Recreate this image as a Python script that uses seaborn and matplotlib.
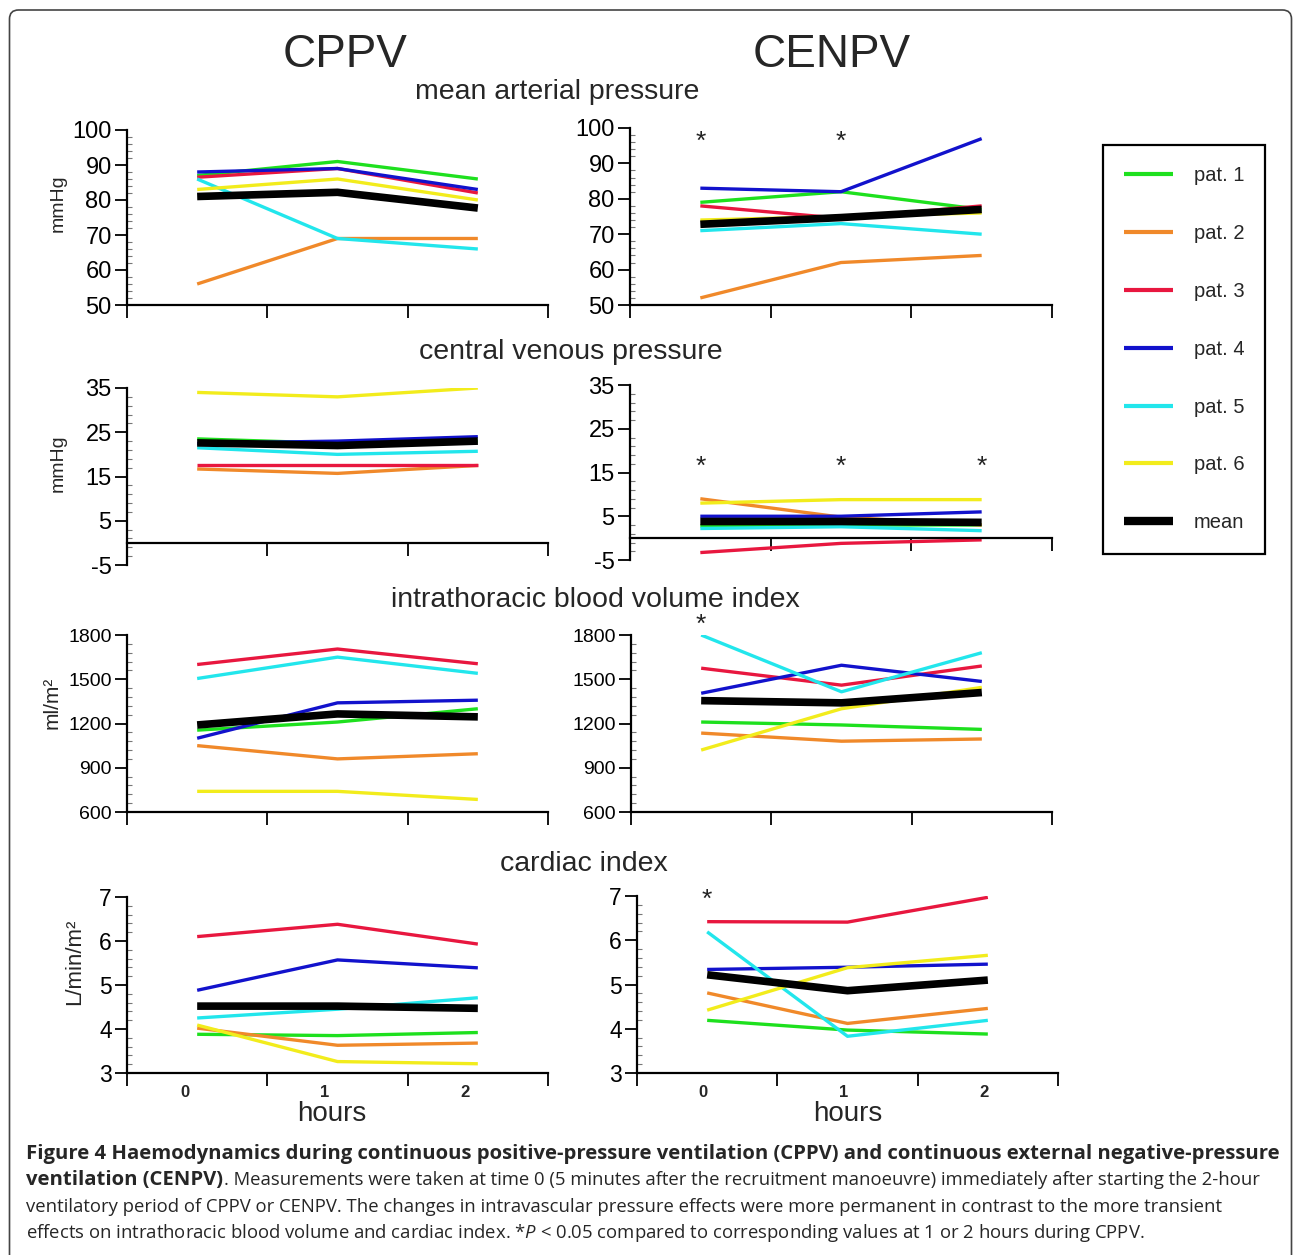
import numpy as np
import pandas as pd
import matplotlib
matplotlib.use("Agg")
import matplotlib.pyplot as plt
import seaborn as sns
from matplotlib.lines import Line2D
from matplotlib.patches import FancyBboxPatch
from matplotlib.transforms import IdentityTransform, blended_transform_factory
from matplotlib.ticker import FixedLocator

# ---------------- data ----------------
SERIES = ["pat. 1", "pat. 2", "pat. 3", "pat. 4", "pat. 5", "pat. 6", "mean"]
COLORS = ["#1ee01e", "#f0892a", "#e8173f", "#1212cc", "#22e6ec", "#f2ec1c", "#000000"]
HOURS = [0, 1, 2]
HOUR_LABELS = ["0", "1", "2"]

# rows: pat.1 .. pat.6, mean ; columns: hour 0, 1, 2
MAP_CPPV = [[87, 91, 86], [56, 69, 69], [86.5, 89, 82], [88, 89, 83],
            [86, 69, 66], [83, 86, 80], [81, 82.2, 77.7]]
MAP_CENPV = [[79, 82, 77], [52, 62, 64], [78, 74.5, 78], [83, 82, 97],
             [71, 73, 70], [74, 75, 76], [72.8, 74.7, 77]]
CVP_CPPV = [[23.5, 22.5, 23], [16.7, 15.7, 17.5], [17.7, 17.7, 17.7], [22.5, 23, 24],
            [21.5, 20, 20.7], [34, 33, 35], [22.6, 22, 23]]
CVP_CENPV = [[2.8, 3, 3], [9, 4.8, 3], [-3.3, -1.2, -0.4], [5, 5, 6],
             [2.2, 2.6, 1.7], [8, 8.8, 8.8], [3.8, 3.8, 3.6]]
ITBVI_CPPV = [[1155, 1210, 1300], [1050, 960, 995], [1600, 1705, 1605], [1100, 1340, 1358],
              [1505, 1650, 1540], [740, 740, 685], [1190, 1265, 1245]]
ITBVI_CENPV = [[1210, 1190, 1160], [1135, 1080, 1095], [1575, 1460, 1590], [1405, 1595, 1485],
               [1800, 1415, 1680], [1020, 1300, 1445], [1355, 1340, 1410]]
CI_CPPV = [[3.88, 3.85, 3.92], [4.02, 3.63, 3.68], [6.1, 6.38, 5.93], [4.88, 5.57, 5.39],
           [4.25, 4.45, 4.71], [4.09, 3.26, 3.21], [4.52, 4.52, 4.47]]
CI_CENPV = [[4.19, 3.97, 3.88], [4.81, 4.12, 4.46], [6.42, 6.41, 6.97], [5.34, 5.39, 5.46],
            [6.19, 3.83, 4.19], [4.42, 5.38, 5.66], [5.22, 4.86, 5.1]]

# significance stars (CENPV panels): hours marked with *
STAR_MAP = [0, 1]
STAR_CVP = [0, 1, 2]
STAR_ITBVI = [0]
STAR_CI = [0]

GROUP_TITLES = ["CPPV", "CENPV"]
PANEL_TITLES = ["mean arterial pressure", "central venous pressure",
                "intrathoracic blood volume index", "cardiac index"]
Y_LABELS = ["mmHg", "mmHg", "ml/m²", "L/min/m²"]

CAPTION_1 = ("Figure 4 Haemodynamics during continuous positive-pressure ventilation (CPPV) "
             "and continuous external negative-pressure")
CAPTION_2B = "ventilation (CENPV)"
CAPTION_2 = (". Measurements were taken at time 0 (5 minutes after the recruitment manoeuvre) "
             "immediately after starting the 2-hour")
CAPTION_3 = ("ventilatory period of CPPV or CENPV. The changes in intravascular pressure effects "
             "were more permanent in contrast to the more transient")
CAPTION_4 = ("effects on intrathoracic blood volume and cardiac index. *$P$ < 0.05 compared to "
             "corresponding values at 1 or 2 hours during CPPV.")

# ---------------- style ----------------
sns.set_style("white")
plt.rcParams["font.family"] = ["Liberation Sans", "DejaVu Sans"]
plt.rcParams["mathtext.fontset"] = "custom"
plt.rcParams["mathtext.it"] = "Open Sans:italic"
plt.rcParams["mathtext.rm"] = "Open Sans"
plt.rcParams["lines.solid_capstyle"] = "butt"
plt.rcParams["lines.solid_joinstyle"] = "round"

W, H = 1293, 1255
fig = plt.figure(figsize=(W / 100, H / 100), dpi=100)


def fx(x):
    return x / W


def fy(y):
    return 1 - y / H


def ax_rect(x0, y0, x1, y1):
    return [x0 / W, 1 - y1 / H, (x1 - x0) / W, (y1 - y0) / H]


LEFT_POS = [(127, 130, 548, 305), (127, 388, 548, 565), (127, 635, 548, 812), (127, 897, 548, 1073)]
RIGHT_POS = [(630, 128, 1052, 305), (630, 385, 1052, 560), (631, 635, 1052, 812), (637, 896, 1058, 1073)]

ROWS = [
    dict(data=(MAP_CPPV, MAP_CENPV), ylim=(50, 100), major=np.arange(50, 101, 10),
         minor=np.arange(50, 101, 2), fs=17, stars=STAR_MAP, star_y=96.2, zero=False),
    dict(data=(CVP_CPPV, CVP_CENPV), ylim=(-5, 35), major=np.arange(-5, 36, 10),
         minor=np.arange(-5, 36, 2), fs=17, stars=STAR_CVP, star_y=16.2, zero=True),
    dict(data=(ITBVI_CPPV, ITBVI_CENPV), ylim=(600, 1800), major=np.arange(600, 1801, 300),
         minor=np.arange(600, 1801, 60), fs=14, stars=STAR_ITBVI, star_y=1870, zero=False),
    dict(data=(CI_CPPV, CI_CENPV), ylim=(3, 7), major=np.arange(3, 7.01, 1),
         minor=np.arange(3, 7.01, 0.2), fs=16.5, stars=STAR_CI, star_y=6.91, zero=False),
]

WIDTHS = [2.4] * 6 + [5.5]
palette = dict(zip(SERIES, COLORS))
sizes = dict(zip(SERIES, WIDTHS))


def draw(ax, values):
    df = pd.DataFrame({
        "hour": np.tile(HOURS, len(SERIES)),
        "value": np.ravel(values),
        "series": np.repeat(SERIES, len(HOURS)),
    })
    sns.lineplot(data=df, x="hour", y="value", hue="series", size="series",
                 hue_order=SERIES, size_order=SERIES, palette=palette, sizes=sizes,
                 estimator=None, sort=False, legend=False, ax=ax)


def style(ax, row):
    ax.set_xlim(-0.5, 2.5)
    ax.set_ylim(*row["ylim"])
    ax.patch.set_alpha(0)
    for s in ["top", "right"]:
        ax.spines[s].set_visible(False)
    for s in ["left", "bottom"]:
        ax.spines[s].set_linewidth(1.6)
        ax.spines[s].set_color("black")
    if row["zero"]:
        ax.spines["bottom"].set_position(("data", 0))
    ax.set_xticks([-0.5, 0.5, 1.5, 2.5])
    ax.set_xticklabels([])
    ax.yaxis.set_major_locator(FixedLocator(row["major"]))
    ax.yaxis.set_minor_locator(FixedLocator(row["minor"]))
    ax.set_yticklabels([f"{v:g}" for v in row["major"]])
    ax.tick_params(axis="x", which="major", bottom=True, direction="out", length=9,
                   width=1.3, color="black")
    ax.tick_params(axis="y", which="major", left=True, direction="out", length=9, width=1.3,
                   labelsize=row["fs"], pad=2, color="black", labelcolor="black")
    ax.tick_params(axis="y", which="minor", left=True, direction="in", length=3.5,
                   width=0.8, color="#777777")
    ax.set_xlabel("")
    ax.set_ylabel("")


axes = []
for i, row in enumerate(ROWS):
    for j, pos in enumerate((LEFT_POS[i], RIGHT_POS[i])):
        ax = fig.add_axes(ax_rect(*pos))
        draw(ax, row["data"][j])
        style(ax, row)
        axes.append(ax)
        if j == 1:
            for h in row["stars"]:
                ax.text(h, row["star_y"], "*", ha="center", va="center", fontsize=19,
                        color="#222222", clip_on=False)
        if i == 3:
            tr = blended_transform_factory(ax.transData, ax.transAxes)
            off = -0.09 if j == 0 else -0.03
            for h, lab in zip(HOURS, HOUR_LABELS):
                ax.text(h + off, -0.135, lab, transform=tr, ha="center", va="baseline",
                        fontsize=12, fontweight="bold")
            ax.text(0.96 if j == 0 else 1.0, -0.27, "hours", transform=tr, ha="center",
                    va="baseline", fontsize=20)

# ---------------- titles & labels ----------------
fig.text(fx(345), fy(67), GROUP_TITLES[0], ha="center", va="baseline", fontsize=33)
fig.text(fx(832), fy(67), GROUP_TITLES[1], ha="center", va="baseline", fontsize=33)
for t, (x, y) in zip(PANEL_TITLES, [(557, 99), (571, 359), (595, 607), (584, 871)]):
    fig.text(fx(x), fy(y), t, ha="center", va="baseline", fontsize=20.5)
for lab, (x, y), fs in zip(Y_LABELS, [(58, 203), (58, 463), (52, 703), (75, 962)], [14, 14, 15, 16]):
    fig.text(fx(x), fy(y), lab, ha="center", va="center", rotation=90, fontsize=fs)

# ---------------- legend ----------------
handles = [Line2D([], [], color=c, lw=(6 if s == "mean" else 3), solid_capstyle="butt")
           for s, c in zip(SERIES, COLORS)]
leg = fig.legend(handles, SERIES, loc="upper left", bbox_to_anchor=(fx(1103), fy(145)),
                 bbox_transform=fig.transFigure, frameon=True, fancybox=False,
                 edgecolor="black", framealpha=1, fontsize=14.5, handlelength=2.45,
                 handletextpad=1.0, borderpad=1.05, labelspacing=1.93, borderaxespad=0)
leg.get_frame().set_linewidth(1.6)

# ---------------- outer border ----------------
border = FancyBboxPatch((9.5, -30), 1282, H - 10 + 30, boxstyle="round,pad=0,rounding_size=9",
                        transform=IdentityTransform(), fill=False, edgecolor="#444444", lw=1.2)
fig.add_artist(border)

# ---------------- caption ----------------
renderer = fig.canvas.get_renderer()


def width_of(text, **kw):
    t = fig.text(0, 0, text, **kw)
    w = t.get_window_extent(renderer).width
    t.remove()
    return w


fs_b = 10 * 1252 / width_of(CAPTION_1, fontsize=10, fontweight="bold", family="Open Sans")
fs_r = 10 * 1198 / width_of(CAPTION_3, fontsize=10, family="Open Sans")
X0 = 26
fig.text(fx(X0), fy(1158.5), CAPTION_1, fontsize=fs_b, fontweight="bold", family="Open Sans",
         va="baseline", ha="left")
t2 = fig.text(fx(X0), fy(1185), CAPTION_2B, fontsize=fs_b, fontweight="bold", family="Open Sans",
              va="baseline", ha="left")
w2 = t2.get_window_extent(renderer).width
fig.text(fx(X0 + w2 + 1), fy(1185), CAPTION_2, fontsize=fs_r, family="Open Sans",
         va="baseline", ha="left")
fig.text(fx(X0), fy(1211.5), CAPTION_3, fontsize=fs_r, family="Open Sans", va="baseline", ha="left")
fig.text(fx(X0), fy(1238), CAPTION_4, fontsize=fs_r, family="Open Sans", va="baseline", ha="left")

fig.savefig("out.png", dpi=100)
